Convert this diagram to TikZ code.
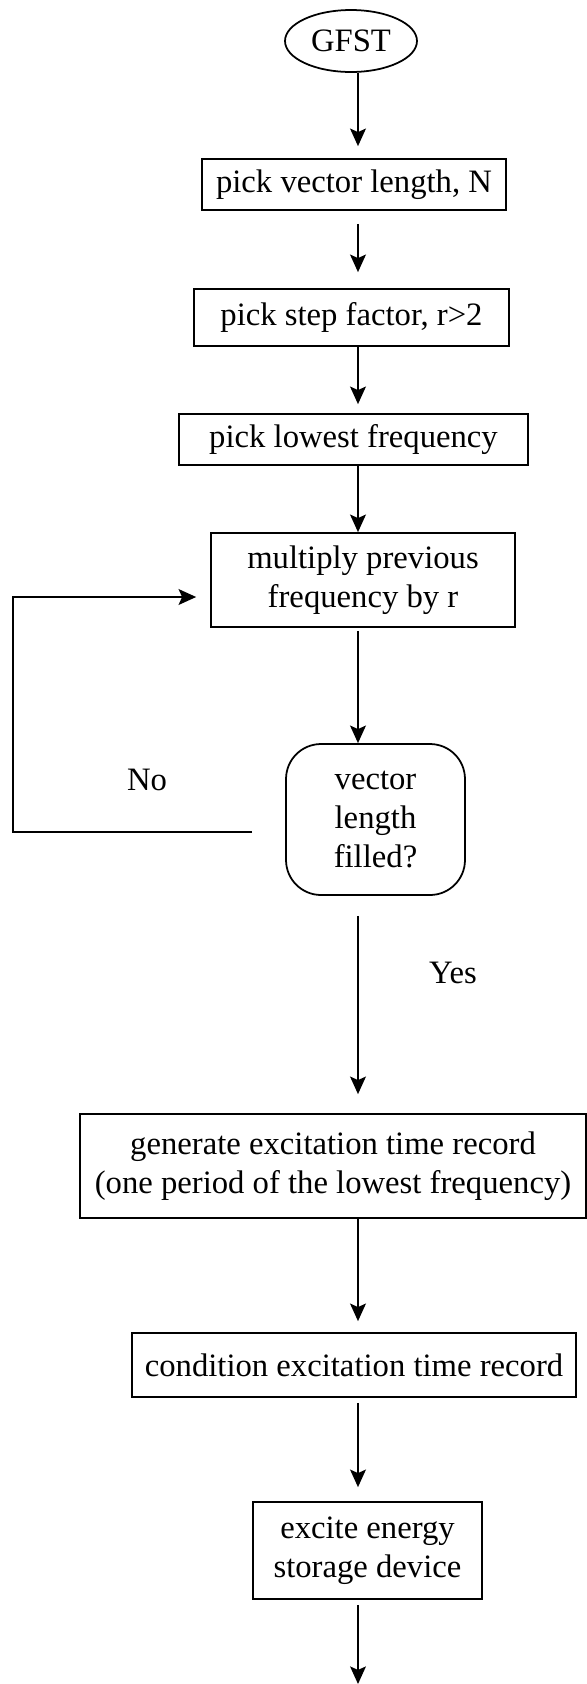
\documentclass[tikz,border=0pt]{standalone}
\usepackage{fontspec}
\setmainfont{Liberation Serif}
\usetikzlibrary{shapes.geometric, arrows.meta}

\begin{document}
\begin{tikzpicture}[x=0.02cm, y=-0.02cm,
    every node/.style={font=\fontsize{18.6}{22}\selectfont},
    procbox/.style={draw, line width=1pt, inner sep=0pt, align=center},
    startnode/.style={draw, ellipse, line width=1pt, inner sep=0pt,
        minimum width=2.64cm, minimum height=1.24cm},
    testbox/.style={draw, line width=1pt, rounded corners=0.7cm, inner sep=0pt,
        align=center, minimum width=3.58cm, minimum height=3.02cm},
    flow/.style={line width=1pt, -{Stealth[length=10pt, width=9pt, inset=2pt]}}]

    % Page frame (pixel units of the reference, y going down)
    \useasboundingbox (0,0) rectangle (587,1684);

    % Column that the downward arrows follow
    \coordinate (spine) at (358,0);

    % Start and the frequency loop
    \node[startnode] (gfst) at (351,41) {GFST};
    \node[procbox, minimum width=6.08cm, minimum height=1.02cm] (vlen) at (354,184.5) {pick vector length, N};
    \node[procbox, minimum width=6.3cm, minimum height=1.14cm] (step) at (351.5,317.5) {pick step factor, r>2};
    \node[procbox, minimum width=6.98cm, minimum height=1.02cm] (lowf) at (353.5,439.5) {pick lowest frequency};
    \node[procbox, minimum width=6.08cm, minimum height=1.88cm] (mult) at (363,580) {multiply previous\\frequency by r};
    \node[testbox] (filled) at (375.5,819.5) {vector\\length\\filled?};

    % Record generation and excitation
    \node[procbox, minimum width=10.12cm, minimum height=2.08cm] (gen) at (333,1166)
        {generate excitation time record\\(one period of the lowest frequency)};
    \node[procbox, minimum width=8.88cm, minimum height=1.28cm] (cond) at (354,1365) {condition excitation time record};
    \node[procbox, minimum width=4.58cm, minimum height=1.94cm] (excite) at (367.5,1550.5) {excite energy\\storage device};

    % Branch labels
    \node (nolbl) at (147,780) {No};
    \node (yeslbl) at (453,973) {Yes};

    % Free ends of the loop and of the last arrow
    \coordinate (noend) at (252,832);
    \coordinate (noturn) at (13,832);
    \coordinate (stop) at (360,1684);

    % Downward arrows
    \draw[flow, shorten >=0.24cm] (gfst.south -| spine) -- (vlen.north -| spine);
    \draw[flow, shorten <=0.26cm, shorten >=0.32cm] (vlen.south -| spine) -- (step.north -| spine);
    \draw[flow, shorten >=0.18cm] (step.south -| spine) -- (lowf.north -| spine);
    \draw[flow] (lowf.south -| spine) -- (mult.north -| spine);
    \draw[flow, shorten <=0.06cm] (mult.south -| spine) -- (filled.north -| spine);
    \draw[flow, shorten <=0.4cm, shorten >=0.38cm] (filled.south -| spine) -- (gen.north -| spine);
    \draw[flow, shorten >=0.22cm] (gen.south -| spine) -- (cond.north -| spine);
    \draw[flow, shorten <=0.1cm, shorten >=0.28cm] (cond.south -| spine) -- (excite.north -| spine);
    \draw[flow, shorten <=0.1cm] (excite.south -| spine) -- (stop -| spine);

    % No: back to the multiply step
    \draw[flow, shorten >=0.28cm] (noend) -- (noturn) |- ([yshift=-0.34cm]mult.west);
\end{tikzpicture}
\end{document}
